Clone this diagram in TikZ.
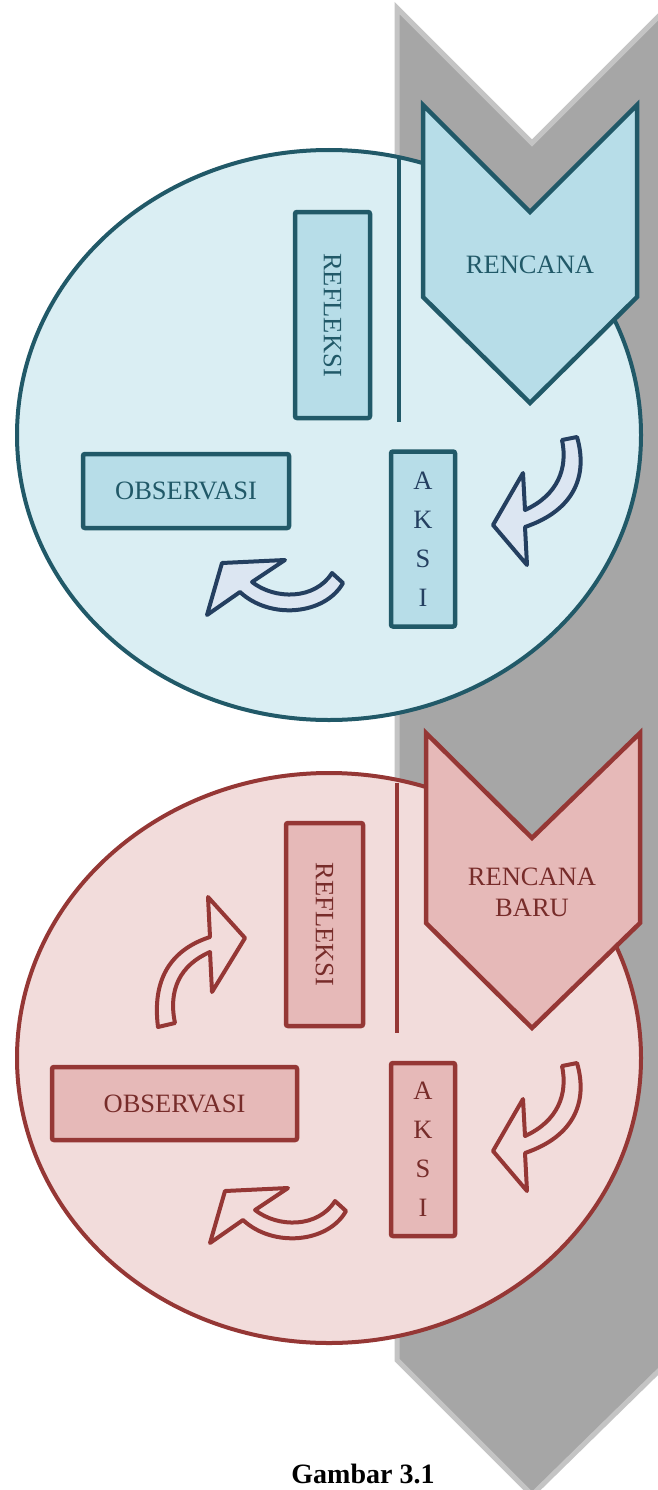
\documentclass[tikz,border=0pt]{standalone}
\usepackage{fontspec}
\setmainfont{Liberation Serif}
\usetikzlibrary{shapes.geometric}
\definecolor{bstroke}{HTML}{215968}
\definecolor{bcirc}{HTML}{DAEEF3}
\definecolor{bbox}{HTML}{B7DDE8}
\definecolor{barr}{HTML}{243F60}
\definecolor{barrfill}{HTML}{DCE6F2}
\definecolor{rstroke}{HTML}{953735}
\definecolor{rcirc}{HTML}{F2DCDB}
\definecolor{rbox}{HTML}{E6B9B8}
\definecolor{rtext}{HTML}{772C2A}
\definecolor{gfill}{HTML}{A6A6A6}
\definecolor{gedge}{HTML}{C4C4C4}
\tikzset{
  lbl/.style={font=\fontsize{26.5}{31}\selectfont, inner sep=0pt},
  bluebox/.style={draw=bstroke, fill=bbox, line width=4.5pt, rounded corners=2pt, text=bstroke, lbl},
  redbox/.style={draw=rstroke, fill=rbox, line width=4.5pt, rounded corners=2pt, text=rtext, lbl},
  bluecirc/.style={ellipse, draw=bstroke, fill=bcirc, line width=4pt, minimum width=624pt, minimum height=570pt, inner sep=0pt},
  redcirc/.style={ellipse, draw=rstroke, fill=rcirc, line width=4pt, minimum width=624pt, minimum height=570pt, inner sep=0pt},
  bluearrow/.style={draw=barr, fill=barrfill, line width=4pt, line join=round},
  redarrow/.style={draw=rstroke, line width=4pt, line join=round},
}
\begin{document}
\begin{tikzpicture}[x=1pt, y=-1pt]
\useasboundingbox (0,0) rectangle (657,1490);
% big gray arrow
\draw[fill=gfill, draw=gedge, line width=5pt] (397,8) -- (532,143) -- (680,-5) -- (680,1350) -- (532,1495) -- (397,1360) -- cycle;

% ===== top cycle =====
\node[bluecirc] (c1) at (329,435) {};
\draw[bstroke, line width=4pt] (399,158) -- (399,422);
\node[bluebox, rotate=-90, minimum width=206pt, minimum height=75pt] (ref1) at (332.5,315) {REFLEKSI};
\node[bluebox, minimum width=206pt, minimum height=74pt] (obs1) at (186,491) {OBSERVASI};
\node[bluebox, minimum width=64pt, minimum height=175pt, align=center, font=\fontsize{26.5}{39}\selectfont, text=barr] (aksi1) at (423,539) {A\\K\\S\\I};
\draw[draw=bstroke, fill=bbox, line width=4.5pt, line join=miter] (423,105) -- (530,212) -- (637,105) -- (637,297) -- (530,403) -- (423,297) -- cycle;
\node[lbl, text=bstroke] (ren1) at (530,265) {RENCANA};
% curved arrows top
\draw[bluearrow] (562,440) -- (577,437) .. controls (588,475) and (575,510) .. (525,527) -- (527,565) -- (493,525) -- (523,473) -- (525,510) .. controls (558,495) and (568,468) .. (562,440) -- cycle;
\draw[bluearrow] (207,615) -- (222,563) -- (285,560) -- (252,582) .. controls (275,600) and (315,600) .. (332,573) -- (343,583) .. controls (325,615) and (270,620) .. (240,592) -- cycle;

% ===== bottom cycle =====
\node[redcirc] (c2) at (329,1058) {};
\draw[rstroke, line width=4pt] (397,783) -- (397,1033);
\node[redbox, rotate=-90, minimum width=203pt, minimum height=77pt] (ref2) at (324.5,924.5) {REFLEKSI};
\node[redbox, minimum width=245pt, minimum height=73pt] (obs2) at (174.5,1103.5) {OBSERVASI};
\node[redbox, minimum width=64pt, minimum height=173pt, align=center, font=\fontsize{26.5}{39}\selectfont] (aksi2) at (423,1149.5) {A\\K\\S\\I};
\draw[draw=rstroke, fill=rbox, line width=4.5pt, line join=miter] (426,733) -- (532,838) -- (640,733) -- (640,923) -- (532,1028) -- (426,923) -- cycle;
\node[lbl, text=rtext, align=center, font=\fontsize{26.5}{31}\selectfont] (ren2) at (532,892) {RENCANA\\BARU};
% curved arrows bottom
\begin{scope}[shift={(0,626)}]
\draw[redarrow] (562,440) -- (577,437) .. controls (588,475) and (575,510) .. (525,527) -- (527,565) -- (493,525) -- (523,473) -- (525,510) .. controls (558,495) and (568,468) .. (562,440) -- cycle;
\end{scope}
\begin{scope}[shift={(3,628)}]
\draw[redarrow] (207,615) -- (222,563) -- (285,560) -- (252,582) .. controls (275,600) and (315,600) .. (332,573) -- (343,583) .. controls (325,615) and (270,620) .. (240,592) -- cycle;
\end{scope}
\draw[redarrow] (158,1027) -- (175,1023) .. controls (168,990) and (180,965) .. (210,952) -- (212,992) -- (245,938) -- (208,897) -- (210,937) .. controls (170,950) and (152,980) .. (158,1027) -- cycle;

% caption
\node[font=\bfseries\fontsize{28}{30}\selectfont, anchor=base, inner sep=0pt] (cap) at (363,1483) {Gambar 3.1};
\end{tikzpicture}
\end{document}
